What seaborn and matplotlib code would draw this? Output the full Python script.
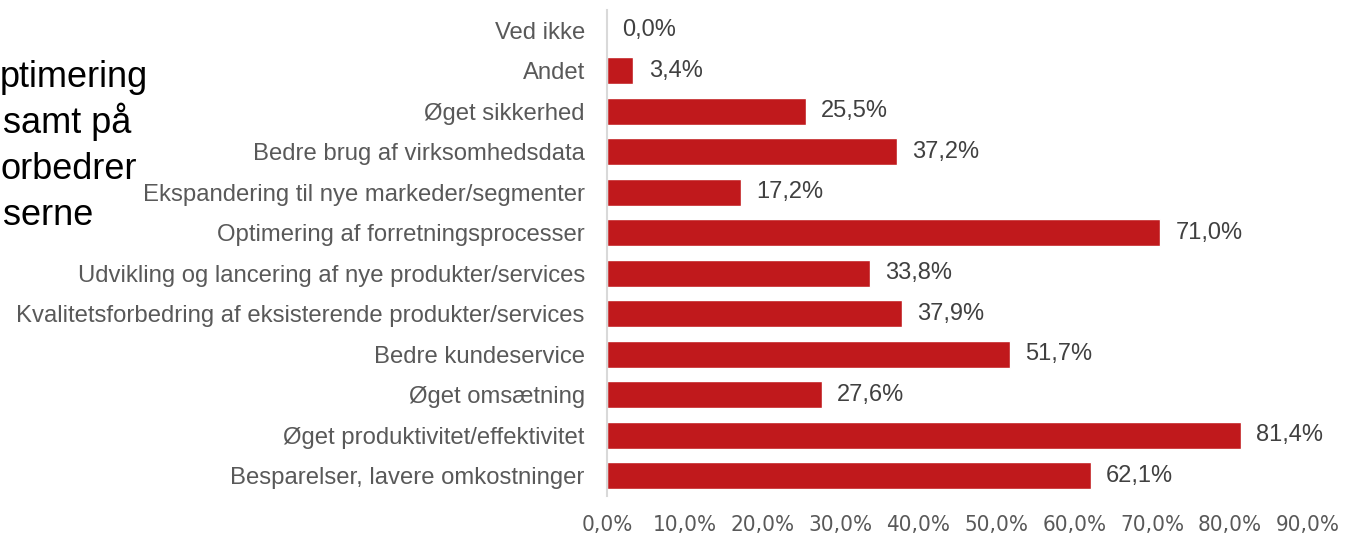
import pandas as pd
import matplotlib.pyplot as plt
import seaborn as sns

# Data (top to bottom)
kategorier = [
    'Ved ikke',
    'Andet',
    'Øget sikkerhed',
    'Bedre brug af virksomhedsdata',
    'Ekspandering til nye markeder/segmenter',
    'Optimering af forretningsprocesser',
    'Udvikling og lancering af nye produkter/services',
    'Kvalitetsforbedring af eksisterende produkter/services',
    'Bedre kundeservice',
    'Øget omsætning',
    'Øget produktivitet/effektivitet',
    'Besparelser, lavere omkostninger',
]
andele = [0.0, 3.4, 25.5, 37.2, 17.2, 71.0, 33.8, 37.9, 51.7, 27.6, 81.4, 62.1]
x_ticks = [0, 10, 20, 30, 40, 50, 60, 70, 80, 90]
baggrundstekst = ['ptimering', 'samt på', 'orbedrer', 'serne']

df = pd.DataFrame({'kategori': kategorier, 'andel': andele})

sns.set_style('white')
plt.rcParams['font.family'] = ['Liberation Sans', 'DejaVu Sans']

fig = plt.figure(figsize=(13.45, 5.37), dpi=100)
ax = fig.add_axes([607 / 1345, 1 - 496 / 537, (1308 - 607) / 1345, 486 / 537])

sns.barplot(data=df, x='andel', y='kategori', orient='h', color='#C0191C',
            saturation=1, width=0.66, ax=ax)

# value labels with comma decimals
ax.bar_label(ax.containers[0], labels=[f'{v:.1f}%'.replace('.', ',') for v in andele],
             padding=11, fontsize=17, color='#404040')

ax.set_xlim(0, 90)
ax.set_ylim(11.5, -0.5)
ax.set_xticks(x_ticks)
ax.set_xticklabels([f'{t:.1f}%'.replace('.', ',') for t in x_ticks],
                   fontsize=16, color='#595959',
                   family=['Liberation Sans Narrow', 'DejaVu Sans'], stretch='condensed')
ax.tick_params(axis='x', length=0, pad=14)
ax.tick_params(axis='y', length=0, pad=16, labelsize=17.2, labelcolor='#595959')
ax.set_xlabel('')
ax.set_ylabel('')

for side in ['top', 'right', 'bottom']:
    ax.spines[side].set_visible(False)
ax.spines['left'].set_color('#D9D9D9')
ax.spines['left'].set_linewidth(1.5)

# cut-off slide text at the left edge
for i, linje in enumerate(baggrundstekst):
    fig.text(0.0 if i % 2 == 0 else 0.002, 1 - (87 + i * 46) / 537, linje,
             fontsize=26, color='black', ha='left', va='baseline')

plt.savefig('out.png', dpi=100)
plt.close()
